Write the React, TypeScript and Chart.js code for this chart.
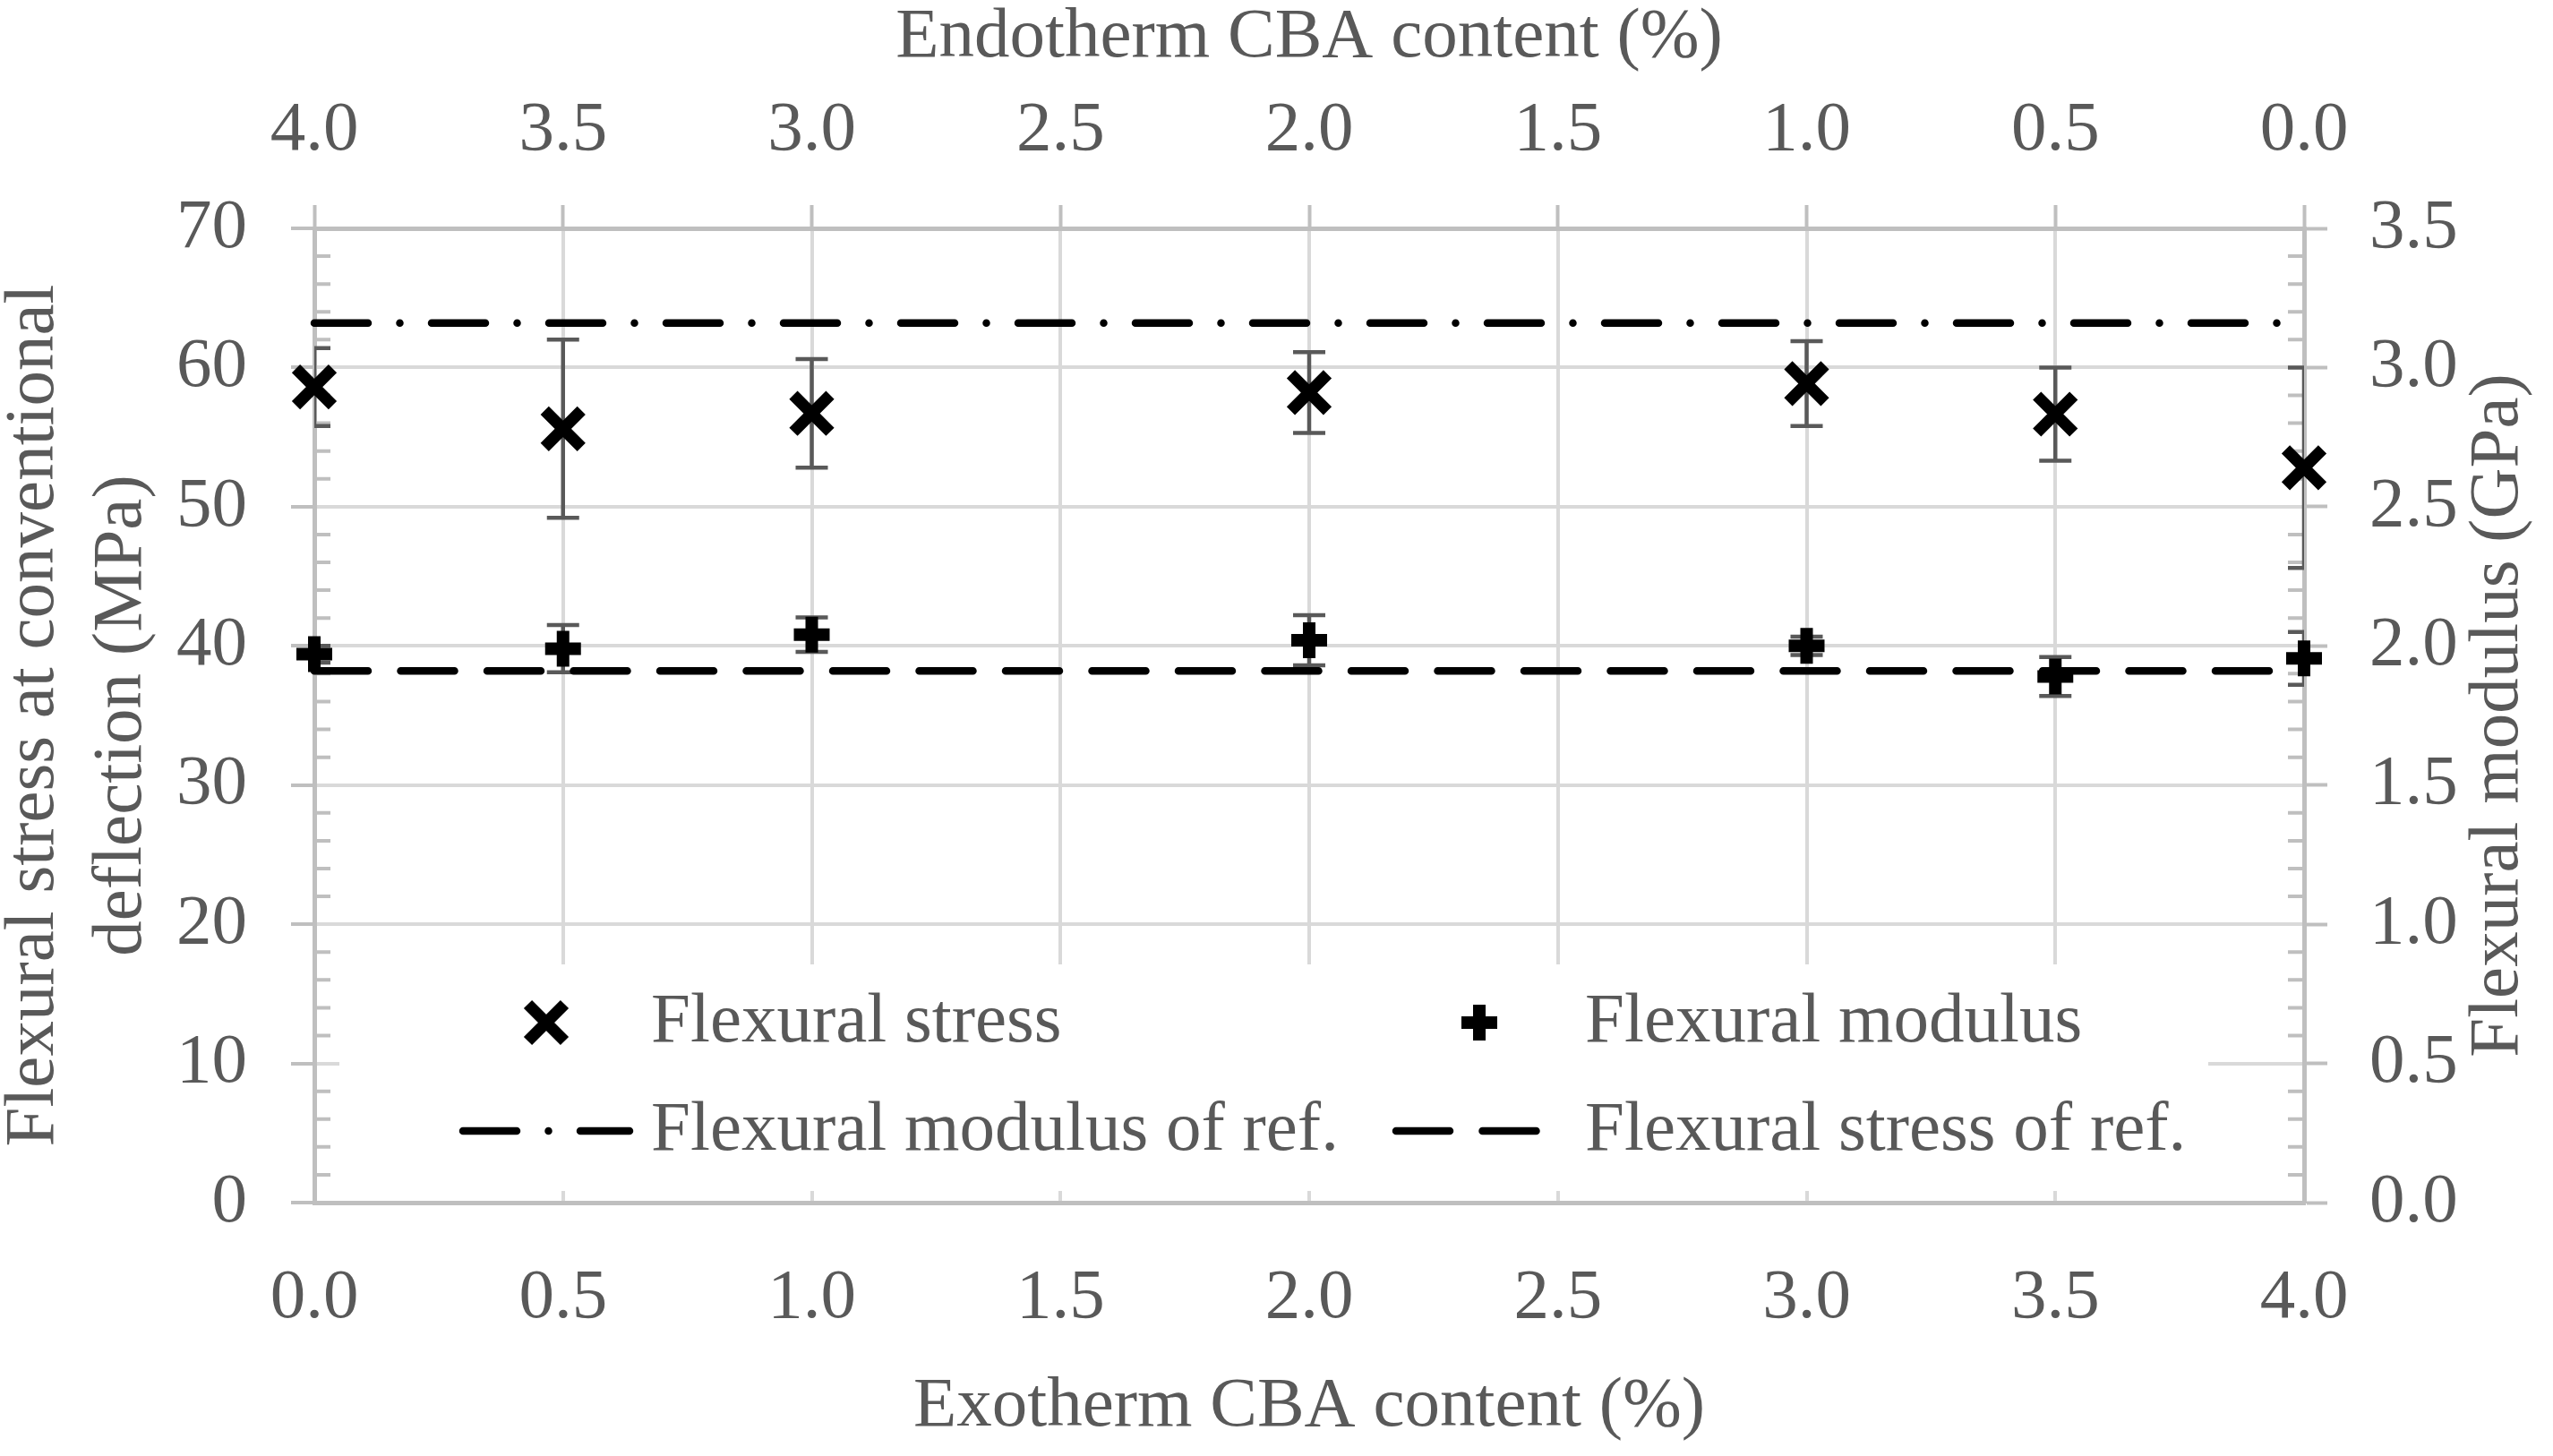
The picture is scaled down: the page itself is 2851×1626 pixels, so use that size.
import React, { useEffect, useRef } from 'react';
import { Chart, registerables } from 'chart.js';
import { drawPoint } from 'chart.js/helpers';

Chart.register(...registerables);

// exotherm CBA content (%) of the samples; endotherm content is 4 - exotherm
const exothermContent = [0.0, 0.5, 1.0, 2.0, 3.0, 3.5, 4.0];
// flexural stress at conventional deflection (MPa) and its deviation
const stressMean = [58.6, 55.6, 56.7, 58.2, 58.85, 56.65, 52.8];
const stressDev = [2.8, 6.4, 3.9, 2.9, 3.05, 3.35, 7.2];
// flexural modulus (GPa) and its deviation
const modulusMean = [1.97, 1.99, 2.04, 2.02, 2.0, 1.89, 1.955];
const modulusDev = [0.03, 0.085, 0.062, 0.09, 0.033, 0.07, 0.095];
// reference (unfoamed) values
const refModulus = 3.16;
const refStress = 38.2;

const TEXT = '#595959';
const GRID = '#d9d9d9';
const AXIS = '#bfbfbf';
const FAMILY = "'Liberation Serif', 'Times New Roman', serif";
const tickFont = { family: FAMILY, size: 79, lineHeight: 1.2 };

const W = 2851;
const H = 1626;

// legend layout (pixels)
const legendBox = { left: 379, top: 1077, right: 2466, bottom: 1330 };
const legendCols = [{ sym: 610, text: 727 }, { sym: 1652, text: 1770 }];
const legendRows = [1142, 1263];

const errorBars = {
  id: 'errorBars',
  beforeDatasetsDraw(chart: any) {
    const { ctx, chartArea, scales } = chart;
    const groups: Array<[any, number[], number[]]> = [
      [scales.y, stressMean, stressDev],
      [scales.y2, modulusMean, modulusDev],
    ];
    ctx.save();
    ctx.beginPath();
    ctx.rect(chartArea.left, chartArea.top, chartArea.right - chartArea.left, chartArea.bottom - chartArea.top);
    ctx.clip();
    ctx.strokeStyle = TEXT;
    ctx.lineWidth = 4.5;
    groups.forEach(([scale, mean, dev]) => {
      exothermContent.forEach((c, i) => {
        const px = scales.x.getPixelForValue(c);
        const top = scale.getPixelForValue(mean[i] + dev[i]);
        const bot = scale.getPixelForValue(mean[i] - dev[i]);
        ctx.beginPath();
        ctx.moveTo(px, top);
        ctx.lineTo(px, bot);
        ctx.moveTo(px - 18, top);
        ctx.lineTo(px + 18, top);
        ctx.moveTo(px - 18, bot);
        ctx.lineTo(px + 18, bot);
        ctx.stroke();
      });
    });
    ctx.restore();
  },
};

const minorTicks = {
  id: 'minorTicks',
  beforeDatasetsDraw(chart: any) {
    const { ctx, chartArea, scales } = chart;
    ctx.save();
    ctx.strokeStyle = AXIS;
    ctx.lineWidth = 4;
    ctx.beginPath();
    for (let v = 2; v < 70; v += 2) {
      if (v % 10 === 0) continue;
      const py = scales.y.getPixelForValue(v);
      ctx.moveTo(chartArea.left, py);
      ctx.lineTo(chartArea.left + 18, py);
    }
    for (let k = 1; k < 35; k++) {
      if (k % 5 === 0) continue;
      const py = scales.y2.getPixelForValue(k / 10);
      ctx.moveTo(chartArea.right, py);
      ctx.lineTo(chartArea.right - 18, py);
    }
    ctx.stroke();
    ctx.restore();
  },
};

const boxLegend = {
  id: 'boxLegend',
  afterDatasetsDraw(chart: any) {
    const { ctx } = chart;
    ctx.save();
    ctx.fillStyle = '#ffffff';
    ctx.fillRect(legendBox.left, legendBox.top, legendBox.right - legendBox.left, legendBox.bottom - legendBox.top);
    chart.data.datasets.forEach((ds: any, i: number) => {
      const col = legendCols[i % 2];
      const y = legendRows[Math.floor(i / 2)];
      ctx.strokeStyle = ds.borderColor;
      ctx.fillStyle = ds.borderColor;
      if (ds.showLine) {
        ctx.save();
        ctx.lineWidth = ds.borderWidth;
        ctx.lineCap = ds.borderCapStyle;
        ctx.setLineDash(ds.borderDash);
        ctx.beginPath();
        ctx.moveTo(col.sym - 93, y);
        ctx.lineTo(col.sym + 93, y);
        ctx.stroke();
        ctx.restore();
      } else {
        ctx.lineWidth = ds.borderWidth;
        drawPoint(ctx, { pointStyle: ds.pointStyle, rotation: 0, radius: ds.pointRadius, borderWidth: ds.borderWidth } as any, col.sym, y);
      }
      ctx.fillStyle = TEXT;
      ctx.font = `79px ${FAMILY}`;
      ctx.textAlign = 'left';
      ctx.textBaseline = 'middle';
      ctx.fillText(ds.label, col.text, y);
    });
    ctx.restore();
  },
};

// right axis title reads bottom-to-top, which Chart.js does not do for a right axis
const rightTitle = {
  id: 'rightTitle',
  afterDraw(chart: any) {
    const { ctx, chartArea } = chart;
    ctx.save();
    ctx.translate(2790, (chartArea.top + chartArea.bottom) / 2);
    ctx.rotate(-Math.PI / 2);
    ctx.fillStyle = TEXT;
    ctx.font = `79px ${FAMILY}`;
    ctx.textAlign = 'center';
    ctx.textBaseline = 'middle';
    ctx.fillText('Flexural modulus (GPa)', 0, 0);
    ctx.restore();
  },
};

const App: React.FC = () => {
  const canvasRef = useRef<HTMLCanvasElement>(null);
  const chartRef = useRef<Chart | null>(null);

  useEffect(() => {
    if (!canvasRef.current) return;
    if (chartRef.current) chartRef.current.destroy();

    const first = exothermContent[0];
    const last = exothermContent[exothermContent.length - 1];

    chartRef.current = new Chart(canvasRef.current, {
      type: 'scatter',
      data: {
        datasets: [
          {
            label: 'Flexural stress',
            data: exothermContent.map((x, i) => ({ x, y: stressMean[i] })),
            yAxisID: 'y',
            pointStyle: 'crossRot',
            pointRadius: 29,
            borderWidth: 13,
            borderColor: '#000000',
            backgroundColor: '#000000',
            showLine: false,
            clip: false,
          },
          {
            label: 'Flexural modulus',
            data: exothermContent.map((x, i) => ({ x, y: modulusMean[i] })),
            yAxisID: 'y2',
            pointStyle: 'cross',
            pointRadius: 20,
            borderWidth: 14,
            borderColor: '#000000',
            backgroundColor: '#000000',
            showLine: false,
            clip: false,
          },
          {
            label: 'Flexural modulus of ref.',
            data: [{ x: first, y: refModulus }, { x: last, y: refModulus }],
            yAxisID: 'y2',
            showLine: true,
            pointRadius: 0,
            borderWidth: 8.5,
            borderColor: '#000000',
            borderDash: [60, 35.5, 0, 35.5],
            borderCapStyle: 'round',
            clip: false,
          },
          {
            label: 'Flexural stress of ref.',
            data: [{ x: first, y: refStress }, { x: last, y: refStress }],
            yAxisID: 'y',
            showLine: true,
            pointRadius: 0,
            borderWidth: 8.5,
            borderColor: '#000000',
            borderDash: [60, 36.5],
            borderCapStyle: 'round',
            clip: false,
          },
        ] as any,
      },
      options: {
        animation: false,
        responsive: true,
        maintainAspectRatio: false,
        devicePixelRatio: 1,
        events: [],
        layout: { padding: 0 },
        plugins: {
          legend: { display: false },
          tooltip: { enabled: false },
        },
        scales: {
          x: {
            type: 'linear',
            position: 'bottom',
            min: 0,
            max: 4,
            ticks: { stepSize: 0.5, color: TEXT, font: tickFont, padding: 60, callback: (v: any) => Number(v).toFixed(1) },
            grid: { color: GRID, lineWidth: 4, drawTicks: false },
            border: { color: AXIS, width: 5 },
            title: {
              display: true,
              text: 'Exotherm CBA content (%)',
              color: TEXT,
              font: tickFont,
              padding: { top: 0, bottom: 7.6 },
            },
            afterFit: (s: any) => { s.height = H - 1343; },
          },
          x2: {
            type: 'linear',
            position: 'top',
            display: true,
            reverse: true,
            min: 0,
            max: 4,
            ticks: { stepSize: 0.5, color: TEXT, font: tickFont, padding: 35.6, callback: (v: any) => Number(v).toFixed(1) },
            grid: { drawOnChartArea: false, drawTicks: true, tickLength: 26, tickColor: AXIS, tickWidth: 4 },
            border: { color: AXIS, width: 5 },
            title: {
              display: true,
              text: 'Endotherm CBA content (%)',
              color: TEXT,
              font: { family: FAMILY, size: 79, lineHeight: 1 },
              padding: { top: 3, bottom: 0 },
            },
            afterFit: (s: any) => { s.height = 255; },
          },
          y: {
            type: 'linear',
            position: 'left',
            min: 0,
            max: 70,
            ticks: { stepSize: 10, color: TEXT, font: tickFont, padding: 49 },
            grid: { color: GRID, lineWidth: 4, tickLength: 26, tickColor: AXIS, tickWidth: 4 },
            border: { color: AXIS, width: 5 },
            title: {
              display: true,
              text: ['Flexural stress at conventional', 'deflection (MPa)'],
              color: TEXT,
              font: { family: FAMILY, size: 79, lineHeight: 1.237 },
              padding: { top: -10.5, bottom: 0 },
            },
            afterFit: (s: any) => { s.width = 351; },
          },
          y2: {
            type: 'linear',
            position: 'right',
            display: true,
            min: 0,
            max: 3.5,
            ticks: { stepSize: 0.5, color: TEXT, font: tickFont, padding: 47, callback: (v: any) => Number(v).toFixed(1) },
            grid: { drawOnChartArea: false, tickLength: 26, tickColor: AXIS, tickWidth: 4 },
            border: { color: AXIS, width: 5 },
            afterFit: (s: any) => { s.width = W - 2573; },
          },
        },
      } as any,
      plugins: [minorTicks, errorBars, boxLegend, rightTitle],
    });

    return () => {
      if (chartRef.current) {
        chartRef.current.destroy();
        chartRef.current = null;
      }
    };
  }, []);

  return (
    <div style={{ position: 'absolute', left: 0, top: 0, width: W, height: H, background: '#ffffff' }}>
      <canvas ref={canvasRef}></canvas>
    </div>
  );
};

export default App;
